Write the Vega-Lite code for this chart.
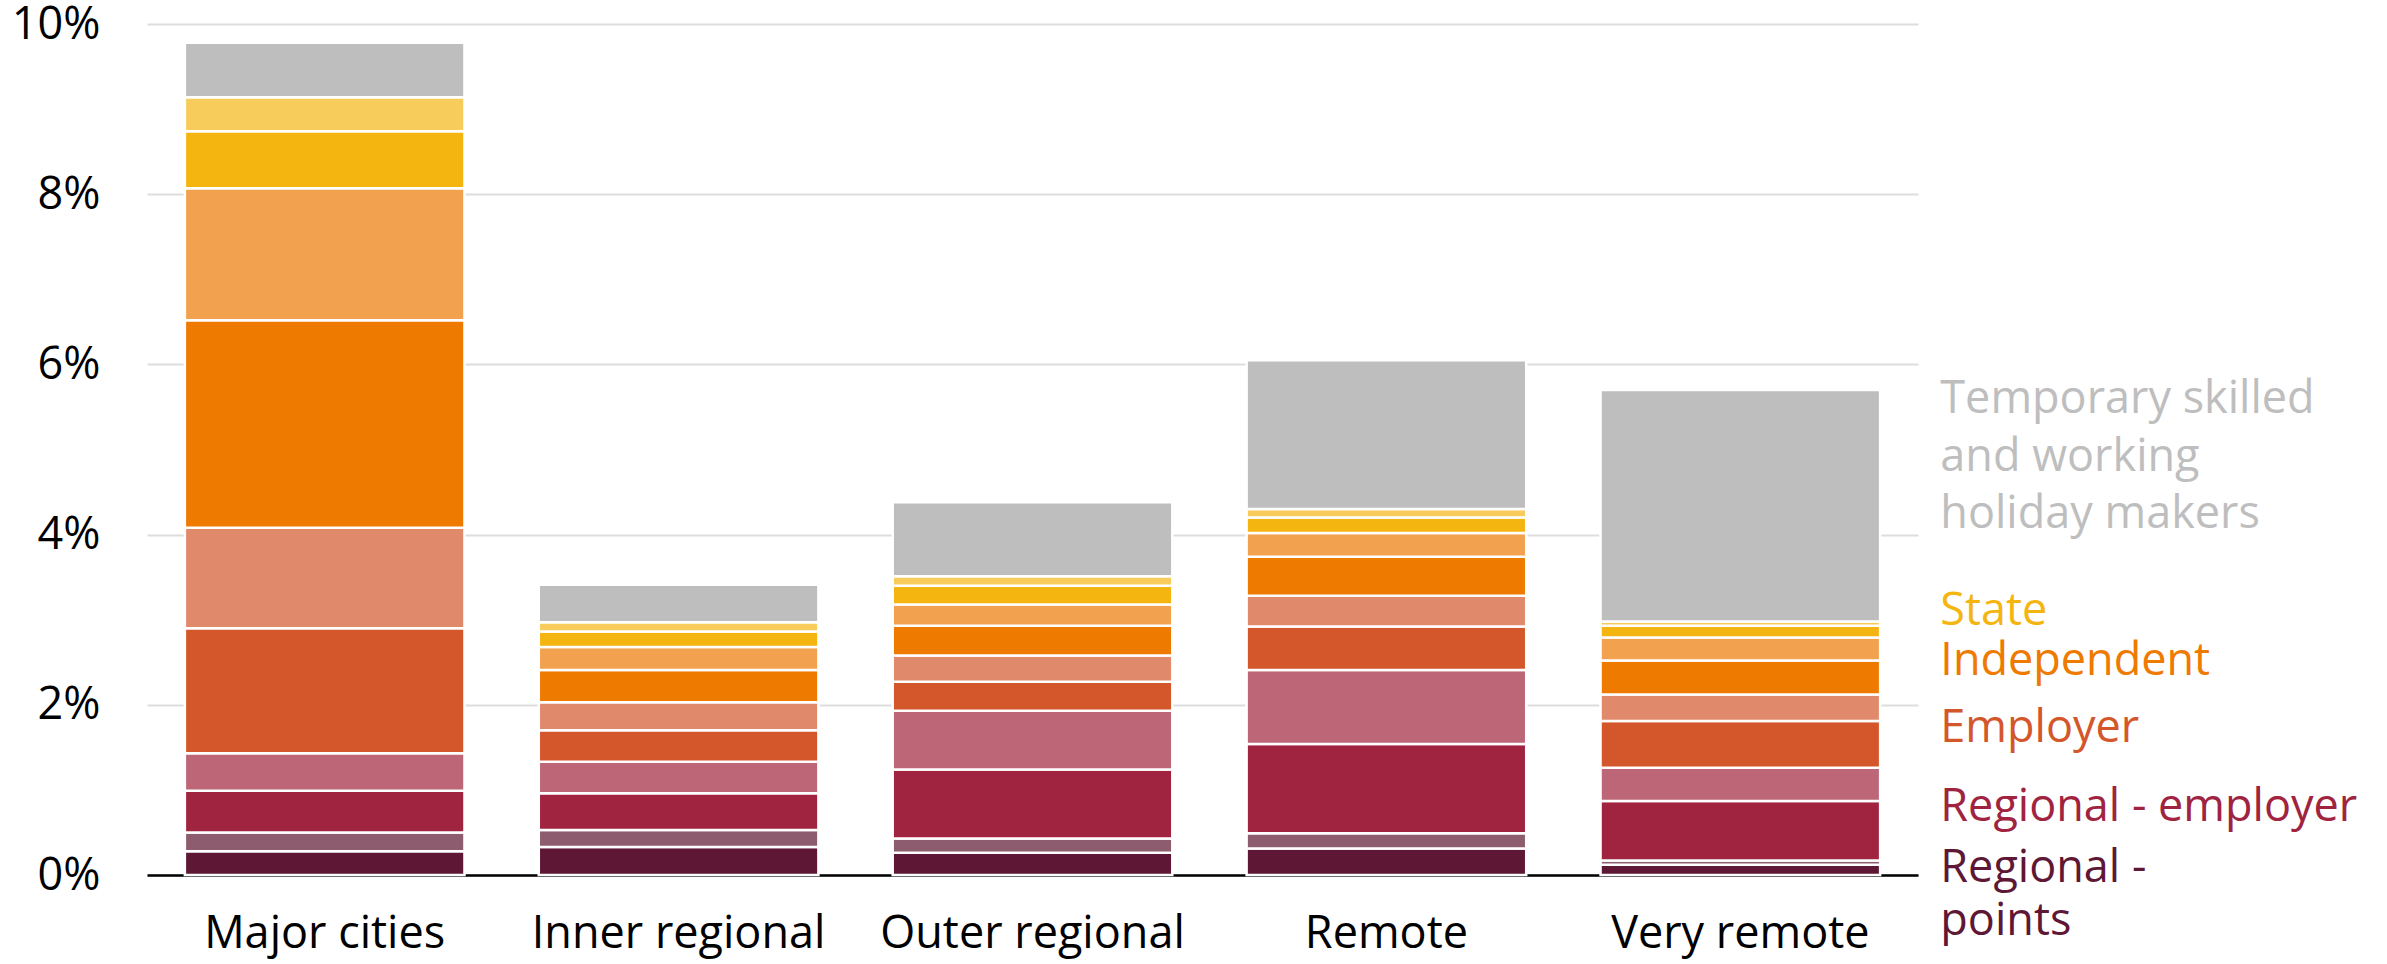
{
  "$schema": "https://vega.github.io/schema/vega-lite/v6.json",
  "autosize": {"type": "none"},
  "width": 1771,
  "height": 851,
  "padding": {"left": 147, "top": 24, "right": 469, "bottom": 89},
  "background": "white",
  "config": {
    "view": {"stroke": null},
    "font": "Open Sans",
    "axis": {"labelFont": "Open Sans", "labelColor": "#000000", "labelFontSize": 45, "labelLimit": 0, "title": null}
  },
  "datasets": {
    "shares": [
      {"area": "Major cities", "visa": "Regional - points (primary)", "share": 0.28},
      {"area": "Major cities", "visa": "Regional - points (secondary)", "share": 0.22},
      {"area": "Major cities", "visa": "Regional - employer (primary)", "share": 0.49},
      {"area": "Major cities", "visa": "Regional - employer (secondary)", "share": 0.44},
      {"area": "Major cities", "visa": "Employer (primary)", "share": 1.47},
      {"area": "Major cities", "visa": "Employer (secondary)", "share": 1.18},
      {"area": "Major cities", "visa": "Independent (primary)", "share": 2.44},
      {"area": "Major cities", "visa": "Independent (secondary)", "share": 1.55},
      {"area": "Major cities", "visa": "State (primary)", "share": 0.67},
      {"area": "Major cities", "visa": "State (secondary)", "share": 0.40},
      {"area": "Major cities", "visa": "Temporary skilled and working holiday makers", "share": 0.64},

      {"area": "Inner regional", "visa": "Regional - points (primary)", "share": 0.33},
      {"area": "Inner regional", "visa": "Regional - points (secondary)", "share": 0.20},
      {"area": "Inner regional", "visa": "Regional - employer (primary)", "share": 0.43},
      {"area": "Inner regional", "visa": "Regional - employer (secondary)", "share": 0.37},
      {"area": "Inner regional", "visa": "Employer (primary)", "share": 0.37},
      {"area": "Inner regional", "visa": "Employer (secondary)", "share": 0.33},
      {"area": "Inner regional", "visa": "Independent (primary)", "share": 0.38},
      {"area": "Inner regional", "visa": "Independent (secondary)", "share": 0.27},
      {"area": "Inner regional", "visa": "State (primary)", "share": 0.18},
      {"area": "Inner regional", "visa": "State (secondary)", "share": 0.11},
      {"area": "Inner regional", "visa": "Temporary skilled and working holiday makers", "share": 0.44},

      {"area": "Outer regional", "visa": "Regional - points (primary)", "share": 0.26},
      {"area": "Outer regional", "visa": "Regional - points (secondary)", "share": 0.17},
      {"area": "Outer regional", "visa": "Regional - employer (primary)", "share": 0.81},
      {"area": "Outer regional", "visa": "Regional - employer (secondary)", "share": 0.69},
      {"area": "Outer regional", "visa": "Employer (primary)", "share": 0.34},
      {"area": "Outer regional", "visa": "Employer (secondary)", "share": 0.31},
      {"area": "Outer regional", "visa": "Independent (primary)", "share": 0.35},
      {"area": "Outer regional", "visa": "Independent (secondary)", "share": 0.25},
      {"area": "Outer regional", "visa": "State (primary)", "share": 0.22},
      {"area": "Outer regional", "visa": "State (secondary)", "share": 0.11},
      {"area": "Outer regional", "visa": "Temporary skilled and working holiday makers", "share": 0.87},

      {"area": "Remote", "visa": "Regional - points (primary)", "share": 0.31},
      {"area": "Remote", "visa": "Regional - points (secondary)", "share": 0.18},
      {"area": "Remote", "visa": "Regional - employer (primary)", "share": 1.05},
      {"area": "Remote", "visa": "Regional - employer (secondary)", "share": 0.87},
      {"area": "Remote", "visa": "Employer (primary)", "share": 0.51},
      {"area": "Remote", "visa": "Employer (secondary)", "share": 0.36},
      {"area": "Remote", "visa": "Independent (primary)", "share": 0.46},
      {"area": "Remote", "visa": "Independent (secondary)", "share": 0.28},
      {"area": "Remote", "visa": "State (primary)", "share": 0.18},
      {"area": "Remote", "visa": "State (secondary)", "share": 0.10},
      {"area": "Remote", "visa": "Temporary skilled and working holiday makers", "share": 1.75},

      {"area": "Very remote", "visa": "Regional - points (primary)", "share": 0.12},
      {"area": "Very remote", "visa": "Regional - points (secondary)", "share": 0.05},
      {"area": "Very remote", "visa": "Regional - employer (primary)", "share": 0.70},
      {"area": "Very remote", "visa": "Regional - employer (secondary)", "share": 0.39},
      {"area": "Very remote", "visa": "Employer (primary)", "share": 0.55},
      {"area": "Very remote", "visa": "Employer (secondary)", "share": 0.31},
      {"area": "Very remote", "visa": "Independent (primary)", "share": 0.40},
      {"area": "Very remote", "visa": "Independent (secondary)", "share": 0.27},
      {"area": "Very remote", "visa": "State (primary)", "share": 0.14},
      {"area": "Very remote", "visa": "State (secondary)", "share": 0.05},
      {"area": "Very remote", "visa": "Temporary skilled and working holiday makers", "share": 2.72}
    ],
    "labels": [
      {"group": "Temporary", "line": "Temporary skilled", "at": 5.43},
      {"group": "Temporary", "line": "and working", "at": 4.75},
      {"group": "Temporary", "line": "holiday makers", "at": 4.08},
      {"group": "State", "line": "State", "at": 2.94},
      {"group": "Independent", "line": "Independent", "at": 2.355},
      {"group": "Employer", "line": "Employer", "at": 1.56},
      {"group": "Regional - employer", "line": "Regional - employer", "at": 0.63},
      {"group": "Regional - points", "line": "Regional -", "at": -0.085},
      {"group": "Regional - points", "line": "points", "at": -0.70}
    ]
  },
  "layer": [
    {
      "data": {"name": "shares"},
      "transform": [
        {
          "calculate": "indexof(['Regional - points (primary)','Regional - points (secondary)','Regional - employer (primary)','Regional - employer (secondary)','Employer (primary)','Employer (secondary)','Independent (primary)','Independent (secondary)','State (primary)','State (secondary)','Temporary skilled and working holiday makers'], datum.visa)",
          "as": "visa_rank"
        }
      ],
      "mark": {"type": "bar", "stroke": "white", "strokeWidth": 2.5},
      "encoding": {
        "x": {
          "field": "area",
          "type": "nominal",
          "sort": ["Major cities", "Inner regional", "Outer regional", "Remote", "Very remote"],
          "scale": {"paddingInner": 0.21, "paddingOuter": 0.107},
          "axis": {
            "labelAngle": 0,
            "domain": true,
            "domainColor": "#000000",
            "domainWidth": 2.5,
            "ticks": false,
            "labelPadding": 36,
            "grid": false
          }
        },
        "y": {
          "field": "share",
          "type": "quantitative",
          "aggregate": "sum",
          "stack": "zero",
          "scale": {"domain": [0, 10], "nice": false, "zero": true},
          "axis": {
            "values": [0, 2, 4, 6, 8, 10],
            "labelExpr": "datum.value + '%'",
            "domain": false,
            "ticks": false,
            "grid": true,
            "gridColor": "#DDDDDD",
            "gridWidth": 2,
            "labelPadding": 47
          }
        },
        "color": {
          "field": "visa",
          "type": "nominal",
          "scale": {
            "domain": [
              "Regional - points (primary)",
              "Regional - points (secondary)",
              "Regional - employer (primary)",
              "Regional - employer (secondary)",
              "Employer (primary)",
              "Employer (secondary)",
              "Independent (primary)",
              "Independent (secondary)",
              "State (primary)",
              "State (secondary)",
              "Temporary skilled and working holiday makers"
            ],
            "range": ["#5E1734", "#8E5C6F", "#A0233F", "#BC6677", "#D4572B", "#E08A6B", "#EE7A00", "#F2A24F", "#F5B511", "#F8CC5B", "#BEBEBE"]
          },
          "legend": null
        },
        "order": {"field": "visa_rank", "type": "quantitative"}
      }
    },
    {
      "data": {"name": "labels"},
      "mark": {"type": "text", "align": "left", "baseline": "alphabetic", "dx": 200, "fontSize": 45, "font": "Open Sans"},
      "encoding": {
        "x": {"datum": "Very remote", "type": "nominal"},
        "y": {"field": "at", "type": "quantitative"},
        "text": {"field": "line", "type": "nominal"},
        "color": {
          "field": "group",
          "type": "nominal",
          "scale": {
            "domain": ["Temporary", "State", "Independent", "Employer", "Regional - employer", "Regional - points"],
            "range": ["#BEBEBE", "#F5B511", "#EE7A00", "#D4572B", "#A0233F", "#5E1734"]
          },
          "legend": null
        }
      }
    }
  ],
  "resolve": {"scale": {"color": "independent"}}
}
